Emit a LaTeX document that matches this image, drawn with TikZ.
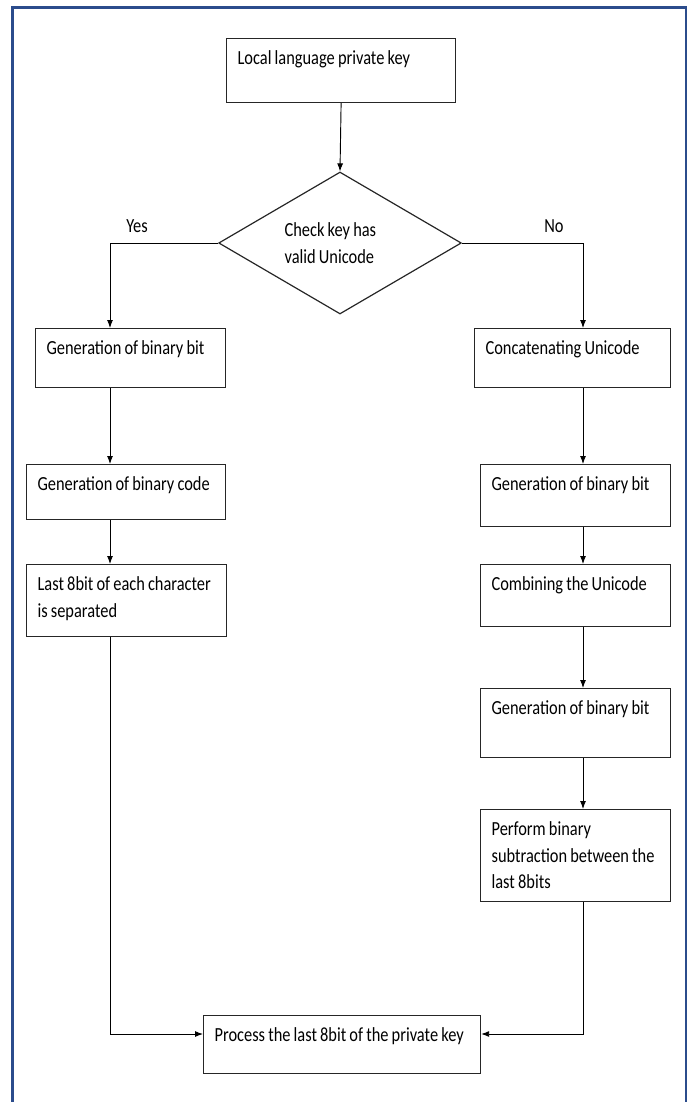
\documentclass[tikz,border=0pt]{standalone}
\usepackage{fontspec}
\setmainfont{Carlito}[FakeStretch=0.82,WordSpace=0.85]
\usetikzlibrary{shapes.geometric,arrows.meta}
\definecolor{frameblue}{RGB}{43,76,140}

\begin{document}
\begin{tikzpicture}[x=0.75pt,y=-0.75pt,
    font=\fontsize{15}{20}\selectfont,
    proc/.style 2 args={draw=black!85, line width=0.9pt, anchor=north west, align=flush left,
      inner xsep=8.25pt, inner ysep=0pt, text width=#1, text height=19.5pt, text depth=#2},
    arr/.style={-{Latex[length=6pt,width=4.5pt]}, line width=0.7pt}]
	\useasboundingbox (0,0) rectangle (691,1102);
	\draw[line width=2.2pt, draw=frameblue] (12.5,1110) -- (12.5,7.5) -- (686,7.5) -- (686,1110);

	\node[proc={155.25pt}{28.5pt}] (key) at (226,38) {Local language private key};
	\node[diamond, draw=black!85, line width=0.9pt, minimum width=182pt, minimum height=106.5pt,
	      aspect=1.7, inner sep=0pt, align=left] (chk) at (340,243) {Check key has\\valid Unicode\hspace*{16pt}};
	\node (yes) at (137,226) {Yes};
	\node (no) at (554,226) {No};

	% yes branch
	\node[proc={126pt}{24.75pt}] (lbit) at (35,328) {Generation of binary bit};
	\node[proc={132.75pt}{21.75pt}] (lcode) at (26,464) {Generation of binary code};
	\node[proc={133.5pt}{34.5pt}] (lsep) at (26,564) {Last 8bit of each character\\is separated};

	% no branch
	\node[proc={130.5pt}{24.75pt}] (rcat) at (474,328) {Concatenating Unicode};
	\node[proc={126pt}{27pt}] (rbit) at (480,464) {Generation of binary bit};
	\node[proc={126pt}{27pt}] (rcomb) at (480,564) {Combining the Unicode};
	\node[proc={126pt}{32.25pt}] (rbit2) at (480,688) {Generation of binary bit};
	\node[proc={126pt}{49.5pt}] (rsub) at (480,809) {Perform binary\\subtraction between the\\last 8bits};

	\node[proc={191.25pt}{24pt}] (last) at (203,1015) {Process the last 8bit of the private key};

	\coordinate (lcol) at (110,0);
	\coordinate (rcol) at (583,0);
	\coordinate (mrg) at (0,1034);

	\draw[arr] (key.south) -- (chk.north);
	\draw[arr] (chk.west) -| (lcol |- lbit.north);
	\draw[arr] (chk.east) -| (rcol |- rcat.north);
	\draw[arr] (lcol |- lbit.south) -- (lcol |- lcode.north);
	\draw[arr] (lcol |- lcode.south) -- (lcol |- lsep.north);
	\draw[arr] (lcol |- lsep.south) -- (lcol |- mrg) -- (last.west |- mrg);
	\draw[arr] (rcol |- rcat.south) -- (rcol |- rbit.north);
	\draw[arr] (rcol |- rbit.south) -- (rcol |- rcomb.north);
	\draw[arr] (rcol |- rcomb.south) -- (rcol |- rbit2.north);
	\draw[arr] (rcol |- rbit2.south) -- (rcol |- rsub.north);
	\draw[arr] (rcol |- rsub.south) -- (rcol |- mrg) -- (last.east |- mrg);
\end{tikzpicture}
\end{document}
